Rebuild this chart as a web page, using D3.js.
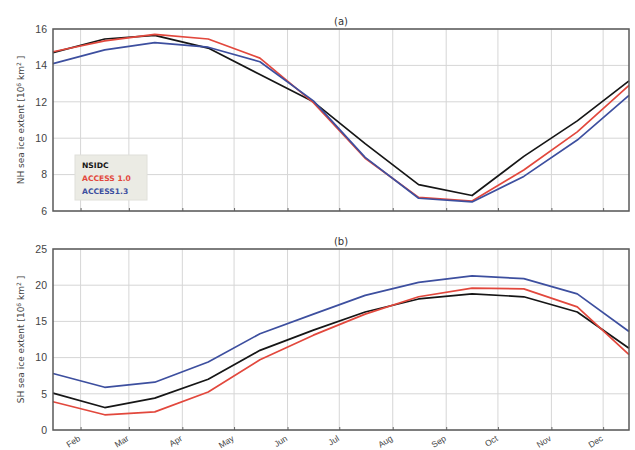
<!DOCTYPE html>
<html>
<head>
<meta charset="utf-8">
<script src="https://cdn.jsdelivr.net/npm/d3@7"></script>
<style>
  html, body { margin: 0; padding: 0; background: #fff; }
  svg { display: block; font-family: "DejaVu Sans", "Liberation Sans", sans-serif; }
</style>
</head>
<body>
<svg id="chart" width="635" height="450"></svg>
<script>
// ---- data ----
const months = ['Jan','Feb','Mar','Apr','May','Jun','Jul','Aug','Sep','Oct','Nov','Dec'];
const midDay = [16,15,16,16,16,16,16,16,16,16,16,16];
const tickMonths = ['Feb','Mar','Apr','May','Jun','Jul','Aug','Sep','Oct','Nov','Dec'];
const seriesNames = ['NSIDC','ACCESS 1.0','ACCESS1.3'];

const nhNSIDC   = [14.7, 15.45, 15.65, 14.95, 13.5, 12.0, 9.7, 7.45, 6.85, 9.0, 10.95, 13.15];
const nhACCESS10 = [14.75, 15.35, 15.7, 15.45, 14.4, 11.95, 8.9, 6.75, 6.55, 8.25, 10.35, 12.9];
const nhACCESS13 = [14.1, 14.85, 15.25, 15.0, 14.2, 12.05, 8.95, 6.7, 6.5, 7.9, 9.9, 12.35];

const shNSIDC   = [5.1, 3.1, 4.4, 7.0, 11.0, 13.8, 16.3, 18.1, 18.8, 18.4, 16.3, 11.3];
const shACCESS10 = [3.9, 2.1, 2.5, 5.25, 9.7, 13.1, 16.0, 18.4, 19.6, 19.5, 17.0, 10.4];
const shACCESS13 = [7.8, 5.9, 6.6, 9.4, 13.3, 16.0, 18.6, 20.4, 21.3, 20.9, 18.8, 13.6];

const nhTicks = [6, 8, 10, 12, 14, 16];
const shTicks = [0, 5, 10, 15, 20, 25];

// ---- layout ----
const colors = ['#161616', '#e2483d', '#3d4f9f'];
const svg = d3.select('#chart');
const dates = months.map((m, i) => new Date(2001, i, midDay[i]));
const tickDates = tickMonths.map((m, i) => new Date(2001, i + 1, 1));

const x = d3.scaleTime().domain([dates[0], dates[dates.length - 1]]).range([53, 629]);

function panel(opts) {
  const y = d3.scaleLinear().domain(opts.domain).range([opts.bottom, opts.top]);
  const g = svg.append('g');

  // grid
  g.append('g').selectAll('line').data(opts.ticks).join('line')
    .attr('x1', x.range()[0]).attr('x2', x.range()[1])
    .attr('y1', d => y(d)).attr('y2', d => y(d))
    .attr('stroke', '#d6d6d6').attr('stroke-width', 1);
  g.append('g').selectAll('line').data(tickDates).join('line')
    .attr('x1', d => x(d)).attr('x2', d => x(d))
    .attr('y1', opts.top).attr('y2', opts.bottom)
    .attr('stroke', '#d6d6d6').attr('stroke-width', 1);

  // y axis
  const yAxis = d3.axisLeft(y).tickValues(opts.ticks).tickSize(0).tickPadding(6).tickFormat(d3.format('d'));
  const ya = g.append('g').attr('transform', `translate(${x.range()[0]},0)`).call(yAxis);
  ya.select('.domain').remove();
  ya.selectAll('text').attr('font-size', 10.5).attr('fill', '#444');

  // x axis
  const xAxis = d3.axisBottom(x).tickValues(tickDates).tickSize(3)
    .tickFormat((d, i) => opts.showX ? tickMonths[i] : '');
  const xa = g.append('g').attr('transform', `translate(0,${opts.bottom})`).call(xAxis);
  xa.select('.domain').remove();
  xa.selectAll('line').attr('stroke', '#666').attr('transform', 'translate(0,-3)');
  xa.selectAll('text')
    .attr('font-size', 8.5).attr('fill', '#444')
    .attr('text-anchor', 'end')
    .attr('dy', 0).attr('y', 0)
    .attr('transform', 'translate(0,10) rotate(-32)');

  // lines
  const line = d3.line().x((d, i) => x(dates[i])).y(d => y(d));
  opts.series.forEach((s, k) => {
    g.append('path').datum(s)
      .attr('d', line)
      .attr('fill', 'none')
      .attr('stroke', colors[k])
      .attr('stroke-width', 1.7)
      .attr('stroke-linejoin', 'round');
  });

  // frame
  g.append('rect')
    .attr('x', x.range()[0]).attr('y', opts.top)
    .attr('width', x.range()[1] - x.range()[0]).attr('height', opts.bottom - opts.top)
    .attr('fill', 'none').attr('stroke', '#5a5a5a').attr('stroke-width', 1.5);

  // title
  g.append('text').attr('x', (x.range()[0] + x.range()[1]) / 2).attr('y', opts.top - 4)
    .attr('text-anchor', 'middle').attr('font-size', 10).attr('fill', '#333')
    .text(opts.title);

  // y-axis title
  const cy = (opts.top + opts.bottom) / 2;
  const t = g.append('text').attr('transform', `translate(24,${cy}) rotate(-90)`)
    .attr('text-anchor', 'middle').attr('font-size', 9).attr('fill', '#444');
  t.append('tspan').text(opts.hemi + ' sea ice extent [10');
  t.append('tspan').attr('font-size', 6).attr('dy', -3.5).text('6');
  t.append('tspan').attr('dy', 3.5).text(' km');
  t.append('tspan').attr('font-size', 6).attr('dy', -3.5).text('2');
  t.append('tspan').attr('dy', 3.5).text(' ]');
  return { g, y };
}

panel({ domain: [6, 16], ticks: nhTicks, top: 29, bottom: 211, title: '(a)', hemi: 'NH',
  series: [nhNSIDC, nhACCESS10, nhACCESS13], showX: false });
panel({ domain: [0, 25], ticks: shTicks, top: 249, bottom: 430, title: '(b)', hemi: 'SH',
  series: [shNSIDC, shACCESS10, shACCESS13], showX: true });

// legend
const lg = svg.append('g').attr('transform', 'translate(75,155)');
lg.append('rect').attr('width', 72).attr('height', 45).attr('fill', '#ebebe4').attr('stroke', '#e0e0da');
seriesNames.forEach((n, i) => {
  lg.append('text').attr('x', 7).attr('y', 13 + i * 13)
    .attr('font-size', 7.6).attr('font-weight', 'bold').attr('fill', colors[i]).text(n);
});
</script>
</body>
</html>
